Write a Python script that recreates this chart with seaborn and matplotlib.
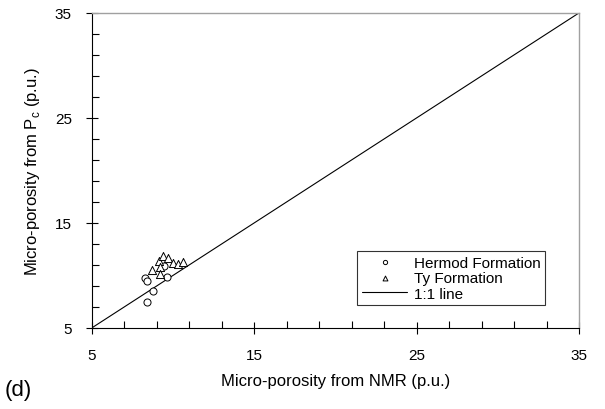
import matplotlib
matplotlib.use("Agg")
import matplotlib.pyplot as plt
import seaborn as sns
import pandas as pd
from matplotlib.ticker import FixedLocator

# Hermod Formation (circles)
hermod_nmr = [8.27, 8.39, 8.78, 8.41, 9.64, 9.45]
hermod_pc = [9.73, 9.45, 8.50, 7.45, 9.83, 10.88]

# Ty Formation (triangles)
ty_nmr = [8.72, 9.13, 9.39, 9.70, 10.01, 10.32, 10.63, 9.19, 9.19]
ty_pc = [10.55, 11.41, 11.83, 11.64, 11.19, 11.10, 11.31, 10.78, 10.14]

line_x = [5, 35]
line_y = [5, 35]

major_ticks = [5, 15, 25, 35]
minor_ticks = list(range(5, 36, 2))

sns.set_style("ticks")
plt.rcParams['font.family'] = ['Liberation Sans', 'DejaVu Sans']
plt.rcParams['text.color'] = 'black'
plt.rcParams['axes.labelcolor'] = 'black'
plt.rcParams['xtick.color'] = 'black'
plt.rcParams['ytick.color'] = 'black'

fig = plt.figure(figsize=(6.05, 4.1), dpi=100)
ax = fig.add_axes([0.152, 0.198, 0.805, 0.768])

df_h = pd.DataFrame({"nmr": hermod_nmr, "pc": hermod_pc})
df_t = pd.DataFrame({"nmr": ty_nmr, "pc": ty_pc})

sns.scatterplot(data=df_h, x="nmr", y="pc", marker="o", s=26, facecolor="white",
                edgecolor="black", linewidth=0.7, ax=ax, label="Hermod Formation", zorder=3)
sns.scatterplot(data=df_t, x="nmr", y="pc", marker="^", s=34, facecolor="white",
                edgecolor="black", linewidth=0.7, ax=ax, label="Ty Formation", zorder=4)
sns.lineplot(x=line_x, y=line_y, color="black", linewidth=0.8, ax=ax, label="1:1 line", zorder=2)

ax.set_xlim(5, 35)
ax.set_ylim(5, 35)
ax.xaxis.set_major_locator(FixedLocator(major_ticks))
ax.yaxis.set_major_locator(FixedLocator(major_ticks))
ax.xaxis.set_minor_locator(FixedLocator(minor_ticks))
ax.yaxis.set_minor_locator(FixedLocator(minor_ticks))
ax.tick_params(which="major", direction="inout", length=9, width=0.8, labelsize=11, pad=10)
ax.tick_params(which="minor", direction="in", length=5, width=0.8)

for side in ["top", "right"]:
    ax.spines[side].set_color("#a0a0a0")
    ax.spines[side].set_linewidth(1.0)
for side in ["left", "bottom"]:
    ax.spines[side].set_color("black")
    ax.spines[side].set_linewidth(0.8)

ax.set_xlabel("Micro-porosity from NMR (p.u.)", fontsize=12, labelpad=8)
ax.set_ylabel(r"Micro-porosity from P$_\mathregular{c}$ (p.u.)", fontsize=12, labelpad=9)

leg = ax.legend(loc="lower right", bbox_to_anchor=(0.93, 0.072), fontsize=11, frameon=True,
                fancybox=False, edgecolor="black", markerscale=0.6, handlelength=3.0,
                borderpad=0.3, labelspacing=0.1, handletextpad=0.4, borderaxespad=0)
leg.get_frame().set_linewidth(0.8)

fig.text(0.008, 0.035, "(d)", fontsize=16)

fig.savefig("out.png", dpi=100)
